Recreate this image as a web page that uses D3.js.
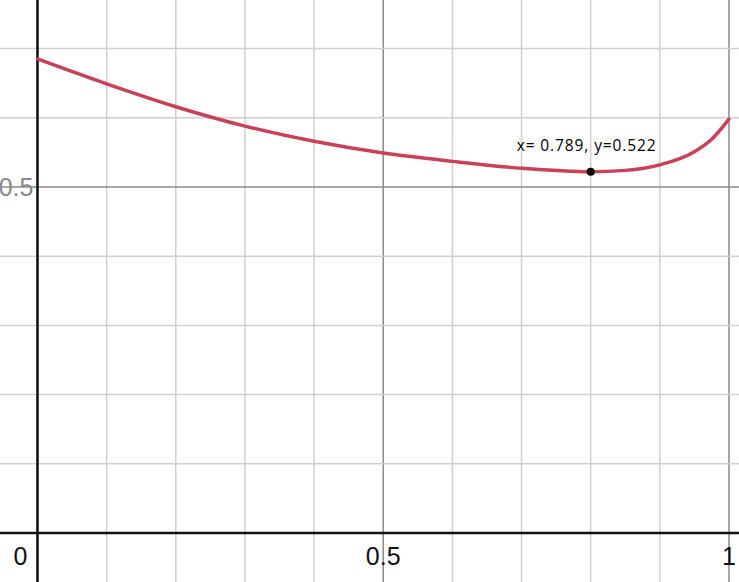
<!DOCTYPE html>
<html>
<head>
<meta charset="utf-8">
<script src="https://cdn.jsdelivr.net/npm/d3@7"></script>
<style>
  html, body { margin: 0; padding: 0; background: #fff; overflow: hidden; }
  svg { display: block; }
</style>
</head>
<body>
<div id="chart"></div>
<script>
// values
const xs = [0, 0.1, 0.2, 0.3, 0.4, 0.5, 0.6, 0.7, 0.8, 0.85, 0.9, 0.95, 0.975, 1];
const ys = [0.685, 0.649, 0.616, 0.588, 0.566, 0.549, 0.537, 0.527, 0.522, 0.524, 0.532, 0.551, 0.569, 0.598];

// marked point and its label
const markX = [0.8];
const markY = [0.522];
const markLabel = ["x= 0.789, y=0.522"];

const xTickLabels = ["0", "0.5", "1"];
const xTickValues = [0, 0.5, 1];
const yTickLabels = ["0.5"];
const yTickValues = [0.5];

const width = 739;
const height = 582;

const x = d3.scaleLinear().domain([-0.0542, 1.0145]).range([0, width]);
const y = d3.scaleLinear().domain([-0.0708, 0.7702]).range([height, 0]);

const svg = d3.select("#chart").append("svg")
    .attr("width", width)
    .attr("height", height);

// grid lines every 0.1, darker every 0.5
const gridX = d3.range(0, 11).map(i => i / 10);
const gridY = d3.range(0, 8).map(i => i / 10);

const grid = svg.append("g");
grid.selectAll("line.gx")
    .data(gridX)
    .join("line")
    .attr("x1", d => x(d)).attr("x2", d => x(d))
    .attr("y1", 0).attr("y2", height)
    .attr("stroke", (d, i) => i % 5 === 0 ? "#8a8a8a" : "#d0d0d0")
    .attr("stroke-width", 1.5);
grid.selectAll("line.gy")
    .data(gridY)
    .join("line")
    .attr("y1", d => y(d)).attr("y2", d => y(d))
    .attr("x1", 0).attr("x2", width)
    .attr("stroke", (d, i) => i % 5 === 0 ? "#8a8a8a" : "#d0d0d0")
    .attr("stroke-width", 1.5);

// axes
svg.append("line")
    .attr("x1", x(0)).attr("x2", x(0))
    .attr("y1", 0).attr("y2", height)
    .attr("stroke", "#111").attr("stroke-width", 2.5);
svg.append("line")
    .attr("x1", 0).attr("x2", width)
    .attr("y1", y(0)).attr("y2", y(0))
    .attr("stroke", "#111").attr("stroke-width", 2.5);

// tick labels
svg.selectAll("text.xt")
    .data(xTickValues)
    .join("text")
    .attr("x", (d, i) => i === 0 ? x(d) - 17 : x(d))
    .attr("y", y(0) + 32)
    .attr("text-anchor", (d, i) => i === 2 ? "end" : "middle")
    .attr("dx", (d, i) => i === 2 ? 7 : 0)
    .attr("font-family", "Liberation Sans, Arial, sans-serif")
    .attr("font-size", 25)
    .attr("fill", "#111")
    .text((d, i) => xTickLabels[i]);

svg.selectAll("text.yt")
    .data(yTickValues)
    .join("text")
    .attr("x", x(0) - 4)
    .attr("y", d => y(d) + 9)
    .attr("text-anchor", "end")
    .attr("font-family", "Liberation Sans, Arial, sans-serif")
    .attr("font-size", 25)
    .attr("fill", "#888")
    .text((d, i) => yTickLabels[i]);

// curve
const pts = xs.map((v, i) => [v, ys[i]]);
const line = d3.line()
    .x(d => x(d[0]))
    .y(d => y(d[1]))
    .curve(d3.curveMonotoneX);

svg.append("path")
    .datum(pts)
    .attr("d", line)
    .attr("fill", "none")
    .attr("stroke", "#c94057")
    .attr("stroke-width", 3.5)
    .attr("stroke-linecap", "round");

// marked point
svg.selectAll("circle.mark")
    .data(markX)
    .join("circle")
    .attr("cx", d => x(d))
    .attr("cy", (d, i) => y(markY[i]))
    .attr("r", 4)
    .attr("fill", "#000");

svg.selectAll("text.mark")
    .data(markX)
    .join("text")
    .attr("x", d => x(d) - 74)
    .attr("y", (d, i) => y(markY[i]) - 21)
    .attr("font-family", "Open Sans, Liberation Sans, sans-serif")
    .attr("font-size", 15.5)
    .attr("textLength", 139)
    .attr("fill", "#000")
    .text((d, i) => markLabel[i]);
</script>
</body>
</html>
